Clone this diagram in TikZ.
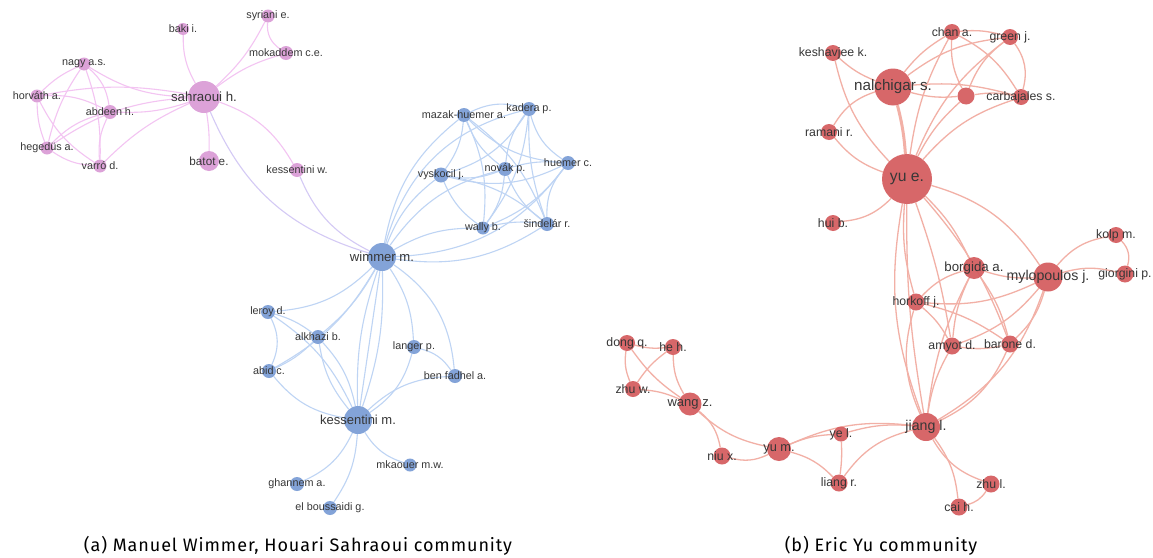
\documentclass[tikz,border=0pt]{standalone}
\usepackage{fontspec}
\setmainfont{Liberation Sans}
\newfontfamily\capfont[LetterSpace=5]{Fira Sans}
\usetikzlibrary{backgrounds}
\pgfdeclarelayer{fg}
\pgfdeclarelayer{bottom}
\pgfsetlayers{bottom,background,main,fg}
\definecolor{pinkN}{RGB}{218,155,214}
\definecolor{blueN}{RGB}{122,157,214}
\definecolor{redN}{RGB}{213,92,94}
\definecolor{pinkE}{RGB}{243,196,242}
\definecolor{blueE}{RGB}{190,212,244}
\definecolor{redE}{RGB}{242,176,166}
\definecolor{lavE}{RGB}{212,202,245}
\definecolor{labC}{RGB}{55,55,55}
\tikzset{
  pn/.style={circle,fill=pinkN,inner sep=0pt,draw=none,fill opacity=0.93},
  bn/.style={circle,fill=blueN,inner sep=0pt,draw=none,fill opacity=0.93},
  rn/.style={circle,fill=redN,inner sep=0pt,draw=none,fill opacity=0.93},
  lab/.style={inner sep=0pt,text=labC},
  pe/.style={draw=pinkE,line width=1.1pt},
  be/.style={draw=blueE,line width=1.1pt},
  re/.style={draw=redE,line width=1.3pt},
  le/.style={draw=lavE,line width=1.1pt},
  capt/.style={inner sep=0pt,text=black,font=\capfont\fontsize{18}{20}\selectfont}
}
\newcommand\vn[7]{%
  \node[#5, minimum size=#4pt] (#1) at (#2,#3) {};
  \begin{pgfonlayer}{fg}\node[lab, font=\fontsize{#7}{#7}\selectfont] (#1-t) at (#2,#3) {#6};\end{pgfonlayer}}
\begin{document}
\begin{tikzpicture}[x=1pt,y=-1pt]
\begin{pgfonlayer}{bottom}
\path[use as bounding box,fill=white] (0,0) rectangle (1153,557);
\end{pgfonlayer}
% ---------- left graph ----------
\vn{sah}{204}{97}{32}{pn}{sahraoui h.}{13.3}
\vn{baki}{183}{29}{12}{pn}{baki i.}{10.8}
\vn{syr}{268}{16}{13}{pn}{syriani e.}{10.8}
\vn{mok}{286}{53}{14}{pn}{mokaddem c.e.}{10.8}
\vn{nagy}{84}{64}{13}{pn}{nagy a.s.}{10.8}
\vn{horv}{37}{96}{13}{pn}{horváth a.}{10.8}
\vn{abd}{110}{112}{14}{pn}{abdeen h.}{10.8}
\vn{heg}{47}{148}{13}{pn}{hegedüs a.}{10.8}
\vn{var}{100}{166}{13}{pn}{varró d.}{10.8}
\vn{bat}{209}{161}{20}{pn}{batot e.}{11.7}
\vn{kw}{297}{170}{14}{pn}{kessentini w.}{10.8}
\vn{wim}{382}{257}{28}{bn}{wimmer m.}{13.1}
\vn{maz}{464}{115}{14}{bn}{mazak-huemer a.}{10.8}
\vn{kad}{529}{109}{14}{bn}{kadera p.}{10.8}
\vn{vys}{441}{175}{15}{bn}{vyskocil j.}{10.8}
\vn{nov}{505}{169}{14}{bn}{novák p.}{10.8}
\vn{hue}{568}{163}{14}{bn}{huemer c.}{10.8}
\vn{wal}{483}{228}{13}{bn}{wally b.}{10.8}
\vn{sin}{547}{224}{14}{bn}{šindelár r.}{10.8}
\vn{ler}{268}{312}{14}{bn}{leroy d.}{10.8}
\vn{alk}{318}{337}{14}{bn}{alkhazi b.}{10.8}
\vn{abi}{269}{371}{14}{bn}{abid c.}{10.8}
\vn{lan}{414}{347}{14}{bn}{langer p.}{10.8}
\vn{bfa}{455}{376}{14}{bn}{ben fadhel a.}{10.8}
\vn{km}{358}{420}{28}{bn}{kessentini m.}{13}
\vn{mka}{410}{465}{13}{bn}{mkaouer m.w.}{10.8}
\vn{gha}{297}{484}{14}{bn}{ghannem a.}{10.8}
\vn{elb}{330}{508}{14}{bn}{el boussaidi g.}{10.8}
% ---------- right graph ----------
\vn{yue}{907}{179}{50}{rn}{yu e.}{15.7}
\vn{nal}{893}{87}{37}{rn}{nalchigar s.}{15.2}
\vn{chan}{952}{32}{16}{rn}{chan a.}{12.3}
\vn{gre}{1010}{37}{16}{rn}{green j.}{12.3}
\vn{kes}{833}{53}{16}{rn}{keshavjee k.}{12.3}
\vn{unl}{966}{96}{17}{rn}{}{12}
\vn{car}{1021}{97}{16}{rn}{carbajales s.}{12.3}
\vn{ram}{829}{132}{16}{rn}{ramani r.}{12.3}
\vn{hui}{833}{223}{16}{rn}{hui b.}{12.3}
\vn{bor}{974}{268}{22}{rn}{borgida a.}{13.3}
\vn{myl}{1048}{277}{29}{rn}{mylopoulos j.}{14.2}
\vn{kol}{1116}{235}{16}{rn}{kolp m.}{12.3}
\vn{gio}{1125}{274}{17}{rn}{giorgini p.}{12.3}
\vn{hor}{916}{302}{17}{rn}{horkoff j.}{12.3}
\vn{amy}{952}{346}{17}{rn}{amyot d.}{12.3}
\vn{bar}{1010}{344}{17}{rn}{barone d.}{12.3}
\vn{jia}{926}{427}{28}{rn}{jiang l.}{14.2}
\vn{don}{627}{343}{16}{rn}{dong q.}{12.3}
\vn{heh}{673}{347}{16}{rn}{he h.}{12.3}
\vn{zhw}{633}{389}{16}{rn}{zhu w.}{12.3}
\vn{wan}{690}{404}{23}{rn}{wang z.}{13}
\vn{niu}{722}{456}{17}{rn}{niu x.}{12.3}
\vn{yum}{779}{449}{24}{rn}{yu m.}{12.8}
\vn{yel}{841}{434}{15}{rn}{ye l.}{12.3}
\vn{lia}{839}{483}{17}{rn}{liang r.}{12.3}
\vn{zhl}{991}{484}{17}{rn}{zhu l.}{12.3}
\vn{cai}{959}{507}{17}{rn}{cai h.}{12.3}
% ---------- captions ----------
\node[capt] (capa) at (298,546) {(a) Manuel Wimmer, Houari Sahraoui community};
\node[capt] (capb) at (881,546) {(b) Eric Yu community};
% ---------- edges ----------
\begin{pgfonlayer}{background}
\foreach \a/\b/\c in {sah/baki/15, sah/syr/-10, sah/mok/10, syr/mok/-30, nagy/sah/-15, horv/sah/10,
  abd/sah/-10, heg/sah/15, var/sah/10, sah/bat/5, sah/kw/20,
  nagy/horv/-10, nagy/abd/20, nagy/heg/-10, nagy/var/10, horv/abd/15, horv/heg/-10,
  horv/var/-15, abd/heg/-15, abd/var/-15, heg/var/-15}
  \draw[pe] (\a) to[bend left=\c] (\b);
\foreach \a/\b/\c in {sah/wim/-25, kw/wim/-20}
  \draw[le] (\a) to[bend left=\c] (\b);
\foreach \a/\b/\c in {wim/maz/20, wim/kad/30, wim/vys/15, wim/nov/20, wim/hue/-25, wim/wal/15, wim/sin/-20,
  maz/kad/20, maz/vys/15, maz/nov/-15, maz/hue/-20, maz/wal/15, maz/sin/15, kad/vys/20, kad/nov/-15,
  kad/hue/-20, kad/wal/15, kad/sin/-10, vys/nov/-15, vys/hue/-20, vys/wal/-15, vys/sin/15, nov/hue/10,
  nov/wal/15, nov/sin/-15, hue/wal/15, hue/sin/-20, wal/sin/10,
  ler/wim/-20, alk/wim/-10, abi/wim/-15, wim/km/10, wim/km/-10, wim/km/0, wim/lan/15, wim/bfa/25,
  ler/alk/10, ler/abi/25, ler/km/15, alk/abi/10, alk/km/15, alk/km/-15, abi/km/-20, lan/km/20,
  lan/bfa/20, bfa/km/-20, km/mka/-20, km/gha/20, km/elb/15}
  \draw[be] (\a) to[bend left=\c] (\b);
\draw[re,line width=3pt] (yue) to[bend left=-5] (nal);
\foreach \a/\b/\c in {kes/yue/-15, nal/kes/10, ram/yue/-15, ram/nal/20, hui/yue/-20, yue/chan/10,
  yue/gre/15, yue/unl/10, yue/car/15, nal/chan/10, nal/gre/15, nal/unl/-10, nal/car/10, chan/gre/10,
  chan/unl/-15, chan/car/15, gre/car/25, gre/unl/-15, unl/car/10,
  yue/myl/20, yue/bor/10, yue/hor/-10, yue/amy/5, yue/bar/10, yue/jia/-15, yue/jia/-5,
  myl/kol/20, myl/gio/15, kol/gio/30, myl/bor/10, myl/hor/15, myl/amy/15, myl/bar/15, myl/jia/20,
  bor/hor/-15, bor/amy/-10, bor/bar/10, bor/jia/-10, hor/amy/10, hor/bar/10, hor/jia/-20,
  amy/bar/-10, amy/jia/-10, bar/jia/20,
  jia/yum/-15, jia/yel/-10, jia/lia/-20, jia/zhl/-20, jia/cai/15, zhl/cai/20, yum/yel/10,
  yum/lia/15, yel/lia/5, yum/wan/15, yum/niu/20, wan/niu/20, wan/zhw/-10, wan/don/10,
  heh/wan/-15, don/heh/-10, don/zhw/-15, heh/zhw/-10}
  \draw[re] (\a) to[bend left=\c] (\b);
\end{pgfonlayer}
\end{tikzpicture}
\end{document}
